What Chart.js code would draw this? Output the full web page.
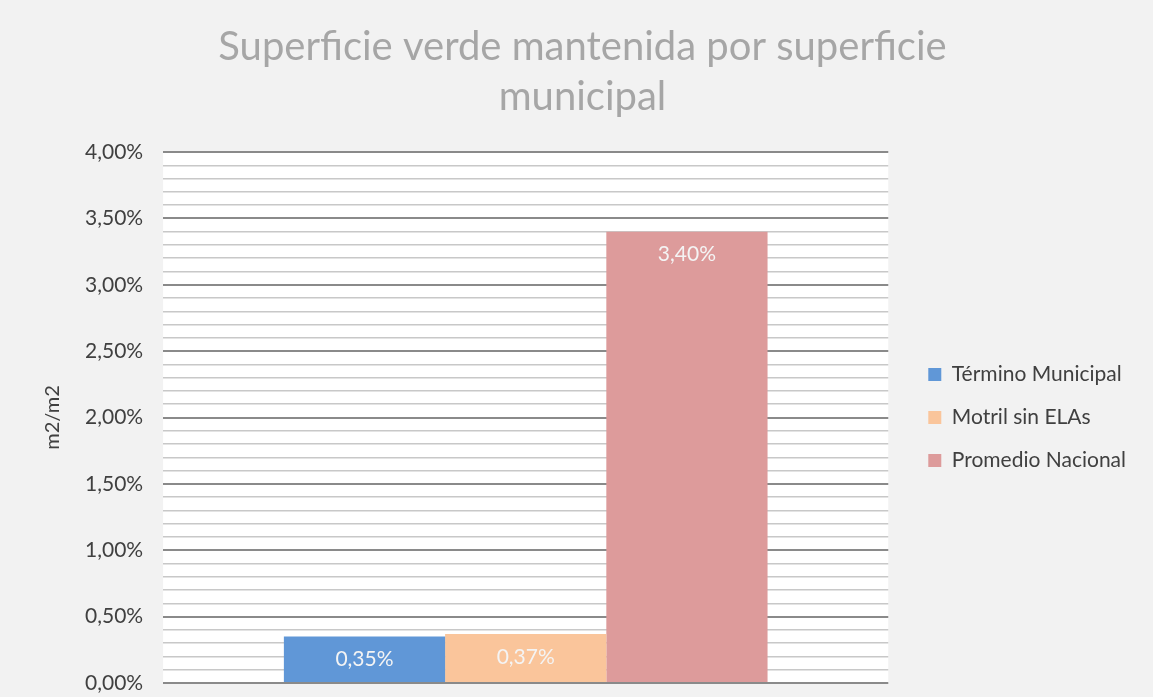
<!DOCTYPE html>
<html>
<head>
<meta charset="utf-8">
<script src="https://cdn.jsdelivr.net/npm/chart.js@4"></script>
<style>
    html, body { margin: 0; padding: 0; background: #f2f2f2; }
    #wrap { width: 1153px; height: 697px; }
</style>
</head>
<body>
<div id="wrap"><canvas id="chart"></canvas></div>
<script>
// Superficie verde mantenida por superficie municipal

const CATEGORIES = [''];
const SERIES_NAMES = ['Término Municipal', 'Motril sin ELAs', 'Promedio Nacional'];
const SERIES_VALUES = [0.35, 0.37, 3.40];
const SERIES_COLORS = ['#6097d7', '#fac59b', '#dd9b9b'];
const Y_MAX = 4;

const FONT = 'Lato, "Liberation Sans", sans-serif';

function pct(v) {
    return v.toFixed(2).replace('.', ',') + '%';
}

function isMajor(v) {
    return Math.round(v * 10) % 5 === 0;
}

// white plot area behind the grid
const plotBackground = {
    id: 'plotBackground',
    beforeDraw(chart) {
        const { ctx, chartArea } = chart;
        ctx.save();
        ctx.fillStyle = '#ffffff';
        ctx.fillRect(chartArea.left, chartArea.top, chartArea.right - chartArea.left, chartArea.bottom - chartArea.top);
        ctx.restore();
    }
};

// labels inside the bar end
const barLabels = {
    id: 'barLabels',
    afterDatasetsDraw(chart) {
        const { ctx } = chart;
        ctx.save();
        ctx.font = '21px ' + FONT;
        ctx.fillStyle = '#f4f4f4';
        ctx.textAlign = 'center';
        ctx.textBaseline = 'middle';
        chart.data.datasets.forEach((ds, i) => {
            chart.getDatasetMeta(i).data.forEach((bar, j) => {
                ctx.fillText(pct(ds.data[j]), bar.x, bar.y + 23);
            });
        });
        ctx.restore();
    }
};

new Chart(document.getElementById('chart'), {
    type: 'bar',
    data: {
        labels: CATEGORIES,
        datasets: SERIES_NAMES.map((name, i) => ({
            label: name,
            data: [SERIES_VALUES[i]],
            backgroundColor: SERIES_COLORS[i],
            borderWidth: 0
        }))
    },
    options: {
        responsive: true,
        maintainAspectRatio: false,
        animation: false,
        layout: { padding: { left: 29, right: 17, top: 22, bottom: 14 } },
        datasets: {
            bar: { categoryPercentage: 0.667, barPercentage: 1 }
        },
        plugins: {
            title: {
                display: true,
                text: ['Superficie verde mantenida por superficie', 'municipal'],
                color: '#a6a6a6',
                font: { family: FONT, size: 40, weight: 'normal', lineHeight: 1.25 },
                padding: { top: 0, bottom: 30 }
            },
            legend: {
                display: true,
                position: 'right',
                maxWidth: 320,
                title: {
                    display: true,
                    text: ' ',
                    font: { size: 10, lineHeight: 1 },
                    padding: { top: 0, bottom: 120 }
                },
                labels: {
                    color: '#404040',
                    font: { family: FONT, size: 21 },
                    boxWidth: 13,
                    boxHeight: 13,
                    padding: 22
                }
            },
            tooltip: { enabled: false }
        },
        scales: {
            x: { display: false },
            y: {
                min: 0,
                max: Y_MAX,
                border: { display: false },
                afterFit: s => { s.paddingTop = 0; s.paddingBottom = 0; },
                ticks: {
                    stepSize: 0.1,
                    autoSkip: false,
                    padding: 20,
                    color: '#404040',
                    font: { family: FONT, size: 21 },
                    callback: v => (isMajor(v) ? pct(v) : '')
                },
                grid: {
                    drawTicks: false,
                    color: c => (isMajor(c.tick.value) ? '#8a8a8a' : '#c8c8c8'),
                    lineWidth: c => (isMajor(c.tick.value) ? 2 : 1.5)
                },
                title: {
                    display: true,
                    text: 'm2/m2',
                    color: '#404040',
                    font: { family: FONT, size: 20 },
                    padding: { top: 12, bottom: 0 }
                }
            },
            // empty axis that only keeps the legend away from the plot
            gap: {
                type: 'linear',
                position: 'right',
                display: true,
                border: { display: false },
                grid: { display: false },
                ticks: { display: false },
                afterFit: s => { s.width = 18; s.paddingTop = 0; s.paddingBottom = 0; }
            }
        }
    },
    plugins: [plotBackground, barLabels]
});
</script>
</body>
</html>
